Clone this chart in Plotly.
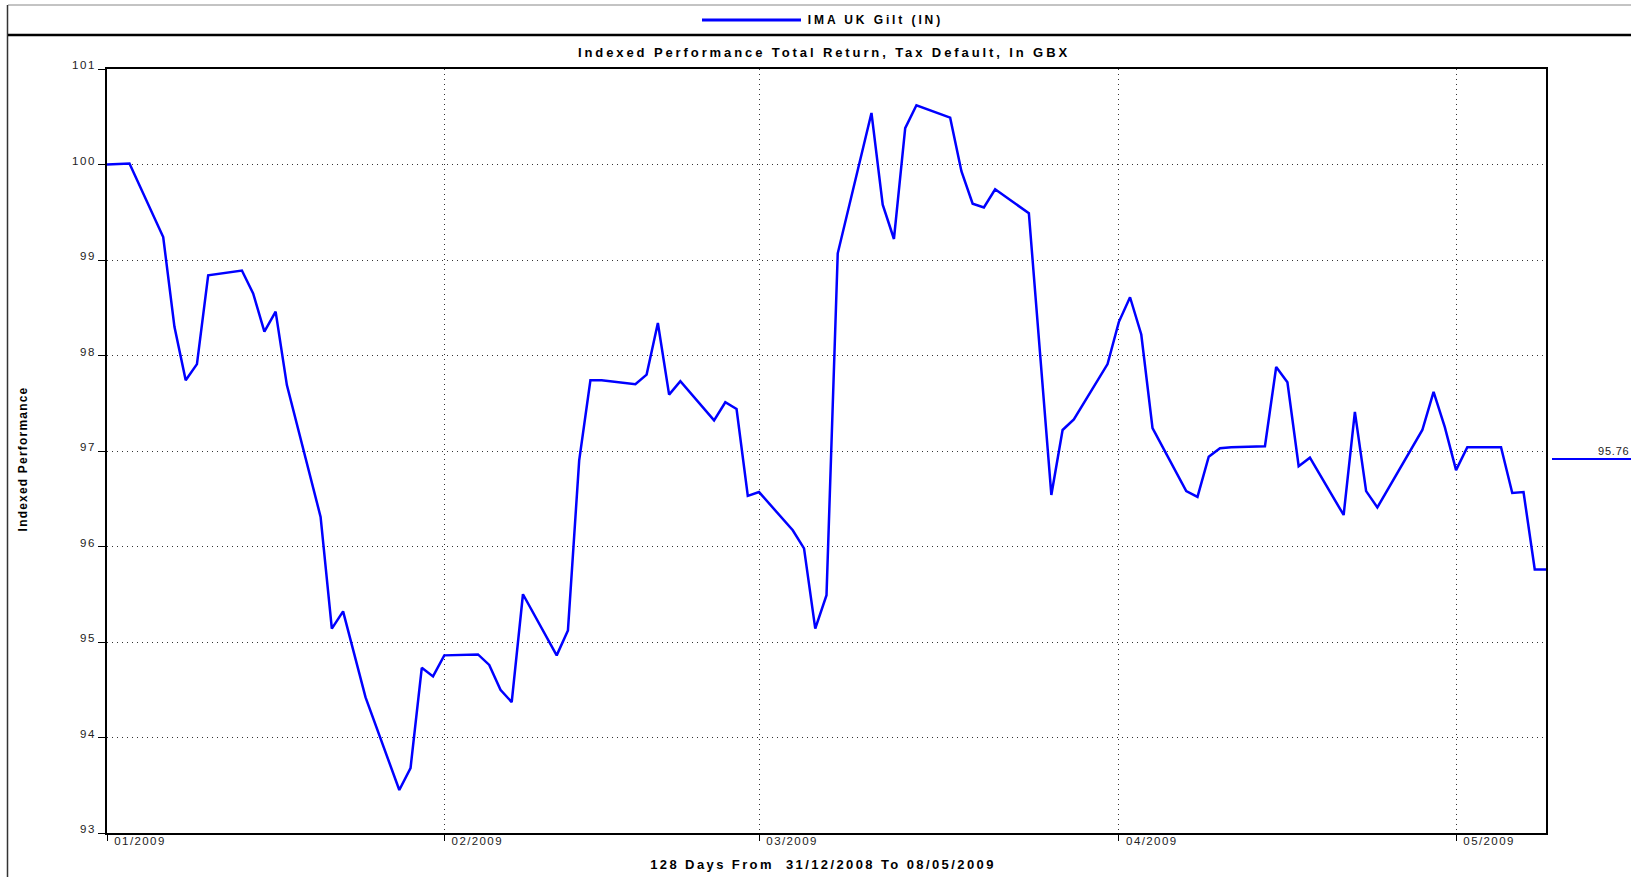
import json
import plotly.graph_objects as go

# fund series, business days (IMA UK Gilt sector, indexed to 100)
dates = [
    "2008-12-31", "2009-01-02", "2009-01-05", "2009-01-06", "2009-01-07", "2009-01-08", "2009-01-09",
    "2009-01-12", "2009-01-13", "2009-01-14", "2009-01-15", "2009-01-16",
    "2009-01-19", "2009-01-20", "2009-01-21", "2009-01-23",
    "2009-01-26", "2009-01-27", "2009-01-28", "2009-01-29", "2009-01-30",
    "2009-02-02", "2009-02-03", "2009-02-04", "2009-02-05", "2009-02-06",
    "2009-02-09", "2009-02-10", "2009-02-11", "2009-02-12", "2009-02-13",
    "2009-02-16", "2009-02-17", "2009-02-18", "2009-02-19", "2009-02-20",
    "2009-02-23", "2009-02-24", "2009-02-25", "2009-02-26", "2009-02-27",
    "2009-03-02", "2009-03-03", "2009-03-04", "2009-03-05", "2009-03-06",
    "2009-03-09", "2009-03-10", "2009-03-11", "2009-03-12", "2009-03-13",
    "2009-03-16", "2009-03-17", "2009-03-18", "2009-03-19", "2009-03-20",
    "2009-03-23", "2009-03-25", "2009-03-26", "2009-03-27",
    "2009-03-30", "2009-03-31", "2009-04-01", "2009-04-02", "2009-04-03",
    "2009-04-06", "2009-04-07", "2009-04-08", "2009-04-09", "2009-04-10",
    "2009-04-13", "2009-04-14", "2009-04-15", "2009-04-16", "2009-04-17",
    "2009-04-20", "2009-04-21", "2009-04-22", "2009-04-23",
    "2009-04-27", "2009-04-28", "2009-04-29", "2009-04-30", "2009-05-01",
    "2009-05-04", "2009-05-05", "2009-05-06", "2009-05-07", "2009-05-08",
]
values = [
    100.00, 100.01, 99.24, 98.30, 97.74, 97.91, 98.84,
    98.89, 98.65, 98.25, 98.46, 97.69,
    96.31, 95.14, 95.32, 94.42,
    93.45, 93.68, 94.73, 94.64, 94.86,
    94.87, 94.76, 94.50, 94.37, 95.50,
    94.86, 95.12, 96.90, 97.74, 97.74,
    97.70, 97.80, 98.34, 97.59, 97.73,
    97.32, 97.51, 97.44, 96.53, 96.57,
    96.17, 95.98, 95.14, 95.49, 99.07,
    100.54, 99.58, 99.22, 100.38, 100.62,
    100.49, 99.93, 99.59, 99.55, 99.74,
    99.49, 96.54, 97.22, 97.33,
    97.91, 98.35, 98.61, 98.22, 97.24,
    96.58, 96.52, 96.94, 97.03, 97.04,
    97.05, 97.88, 97.72, 96.84, 96.93,
    96.33, 97.41, 96.58, 96.41,
    97.22, 97.62, 97.25, 96.80, 97.04,
    97.04, 96.56, 96.57, 95.76, 95.76,
]

# month markers sit on the last business day of the previous month
tick_dates = ["2008-12-31", "2009-01-30", "2009-02-27", "2009-03-31", "2009-04-30"]
tick_labels = ["01/2009", "02/2009", "03/2009", "04/2009", "05/2009"]

serie = "IMA UK Gilt (IN)"
titulo = "Indexed Performance Total Return, Tax Default, In GBX"
titulo_x = "128 Days From  31/12/2008 To 08/05/2009"
titulo_y = "Indexed Performance"
ultimo = f"{values[-1]:.2f}"

azul = "#0000ff"
fuente = "Liberation Sans, Arial, sans-serif"
punteado = "1px,4px"

fig = go.Figure()
fig.add_trace(go.Scatter(x=dates, y=values, mode="lines", name=serie,
                         line=dict(color=azul, width=2.5), showlegend=False))

fig.update_layout(
    width=1631, height=877,
    margin=dict(l=107, r=85, t=69, b=44),
    plot_bgcolor="white", paper_bgcolor="white",
    font=dict(family=fuente, size=11, color="#222"),
    title=dict(text="<b>" + titulo + "</b>",
               x=824 / 1631, xanchor="center", y=1 - 52 / 877, yanchor="middle",
               font=dict(family=fuente, size=13, color="black")),
)

fig.update_xaxes(type="date", range=[dates[0], dates[-1]],
                 tickvals=tick_dates, ticktext=tick_labels,
                 ticks="outside", ticklen=6, tickcolor="black", tickwidth=1,
                 ticklabelshift=33, ticklabelstandoff=-10,
                 showline=True, linecolor="black", linewidth=1.5, mirror=True,
                 showgrid=True, gridcolor="#333", griddash=punteado, gridwidth=1,
                 zeroline=False, tickfont=dict(size=11.5, color="#222"))
fig.update_yaxes(range=[93, 101], dtick=1,
                 ticks="outside", ticklen=7, tickcolor="black", tickwidth=1,
                 ticklabelshift=-4,
                 showline=True, linecolor="black", linewidth=1.5, mirror=True,
                 showgrid=True, gridcolor="#333", griddash=punteado, gridwidth=1,
                 zeroline=False, tickfont=dict(size=11.5, color="#222"))


# helpers to place decorations by page pixel
def px_x(p):
    return (p - 107) / 1439


def px_y(p):
    return (833 - p) / 764


# frame of the panel
fig.add_shape(type="line", xref="paper", yref="paper", x0=px_x(8), x1=px_x(1640),
              y0=px_y(5), y1=px_y(5), line=dict(color="#888", width=1))
fig.add_shape(type="line", xref="paper", yref="paper", x0=px_x(7.5), x1=px_x(7.5),
              y0=px_y(5), y1=px_y(880), line=dict(color="#333", width=1.5))
fig.add_shape(type="line", xref="paper", yref="paper", x0=px_x(8), x1=px_x(1640),
              y0=px_y(35), y1=px_y(35), line=dict(color="black", width=2.5))

# legend
fig.add_shape(type="line", xref="paper", yref="paper", x0=px_x(702), x1=px_x(801),
              y0=px_y(20), y1=px_y(20), line=dict(color=azul, width=3))
fig.add_annotation(text="<b>" + serie + "</b>", xref="paper", yref="paper",
                   x=px_x(875), y=px_y(20), xanchor="center", yanchor="middle",
                   showarrow=False, font=dict(family=fuente, size=12, color="black"))

# last value marker on the right
fig.add_shape(type="line", xref="paper", yref="paper", x0=px_x(1552), x1=px_x(1640),
              y0=px_y(459), y1=px_y(459), line=dict(color=azul, width=2))
fig.add_annotation(text=ultimo, xref="paper", yref="paper",
                   x=px_x(1614), y=px_y(451), xanchor="center", yanchor="middle",
                   showarrow=False, font=dict(family=fuente, size=11, color="#222"))

# axis titles
fig.add_annotation(text="<b>" + titulo_y + "</b>", xref="paper", yref="paper",
                   x=px_x(23), y=px_y(459), textangle=-90, xanchor="center", yanchor="middle",
                   showarrow=False, font=dict(family=fuente, size=12, color="black"))
fig.add_annotation(text="<b>" + titulo_x + "</b>", xref="paper", yref="paper",
                   x=px_x(823), y=px_y(864), xanchor="center", yanchor="middle",
                   showarrow=False, font=dict(family=fuente, size=13, color="black"))

# the source chart uses widely spaced lettering; plotly has no option for it
espaciado = {serie: 2.9, titulo_x: 2.4, titulo_y: 1.2, ultimo: 0.8}
post = """
document.body.style.margin = '0';
var gd = document.getElementById('{plot_id}');
function sp(sel, v) { gd.querySelectorAll(sel).forEach(function (t) { t.style.letterSpacing = v + 'px'; }); }
sp('.gtitle', 2.9);
sp('.xtick text', 1.4);
sp('.ytick text', 1.6);
var esp = %s;
gd.querySelectorAll('.annotation-text').forEach(function (t) {
  var v = esp[t.textContent];
  if (v !== undefined) { t.style.letterSpacing = v + 'px'; }
});
""" % json.dumps(espaciado)

fig.write_html("out.html", post_script=post, config={"displayModeBar": False})
